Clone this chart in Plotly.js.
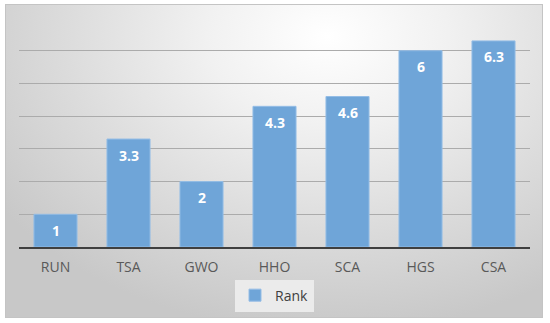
<!DOCTYPE html>
<html>
<head>
<meta charset="utf-8">
<script src="https://cdn.plot.ly/plotly-3.0.1.min.js"></script>
<style>
  html, body { margin: 0; padding: 0; background: #ffffff; }
  #wrap { position: relative; width: 550px; height: 323px; }
  #bg {
    position: absolute; left: 5px; top: 4px; width: 536px; height: 312px;
    border: 1px solid #c4c4c4;
    background: radial-gradient(ellipse 75% 95% at 60% 10%, #ffffff 0%, #f1f1f1 30%, #dcdcdc 65%, #c8c8c8 100%);
  }
  #chart { position: absolute; left: 0; top: 0; width: 550px; height: 323px; }
</style>
</head>
<body>
<div id="wrap">
  <div id="bg"></div>
  <div id="chart"></div>
</div>
<script>
const categories = ["RUN", "TSA", "GWO", "HHO", "SCA", "HGS", "CSA"];
const rankValues = [1, 3.3, 2, 4.3, 4.6, 6, 6.3];
const seriesName = "Rank";

const trace = {
  type: "bar",
  x: categories,
  y: rankValues,
  name: seriesName,
  marker: { color: "#6fa5d8", line: { color: "#94bde6", width: 1 } },
  hoverinfo: "x+y",
  showlegend: true
};

const annotations = categories.map((c, i) => ({
  x: c, y: rankValues[i], xref: "x", yref: "y",
  text: "<b>" + rankValues[i] + "</b>",
  showarrow: false, yshift: -16,
  font: { family: "Open Sans, sans-serif", size: 14, color: "#ffffff" }
}));

const layout = {
  width: 550, height: 323,
  margin: { l: 19, r: 20, t: 18, b: 74 },
  paper_bgcolor: "rgba(0,0,0,0)",
  plot_bgcolor: "rgba(0,0,0,0)",
  bargap: 0.41,
  font: { family: "Open Sans, sans-serif", size: 13, color: "#595959" },
  xaxis: {
    type: "category",
    showline: true, linecolor: "#3f3f3f", linewidth: 1.5,
    showgrid: false, ticks: "outside", ticklen: 7, tickcolor: "rgba(0,0,0,0)",
    tickfont: { size: 14, color: "#595959" },
    fixedrange: true
  },
  yaxis: {
    range: [0, 7], dtick: 1,
    showticklabels: false, showgrid: true, gridcolor: "#ababab", gridwidth: 1,
    zeroline: false, fixedrange: true
  },
  showlegend: true,
  legend: {
    orientation: "h", x: 0.5, xanchor: "center", y: -0.212, yanchor: "middle",
    bgcolor: "rgba(236,236,236,0.95)",
    font: { size: 14, color: "#404040" },
    itemwidth: 30
  },
  annotations: annotations
};

Plotly.newPlot("chart", [trace], layout, { displayModeBar: false, staticPlot: true });
</script>
</body>
</html>
